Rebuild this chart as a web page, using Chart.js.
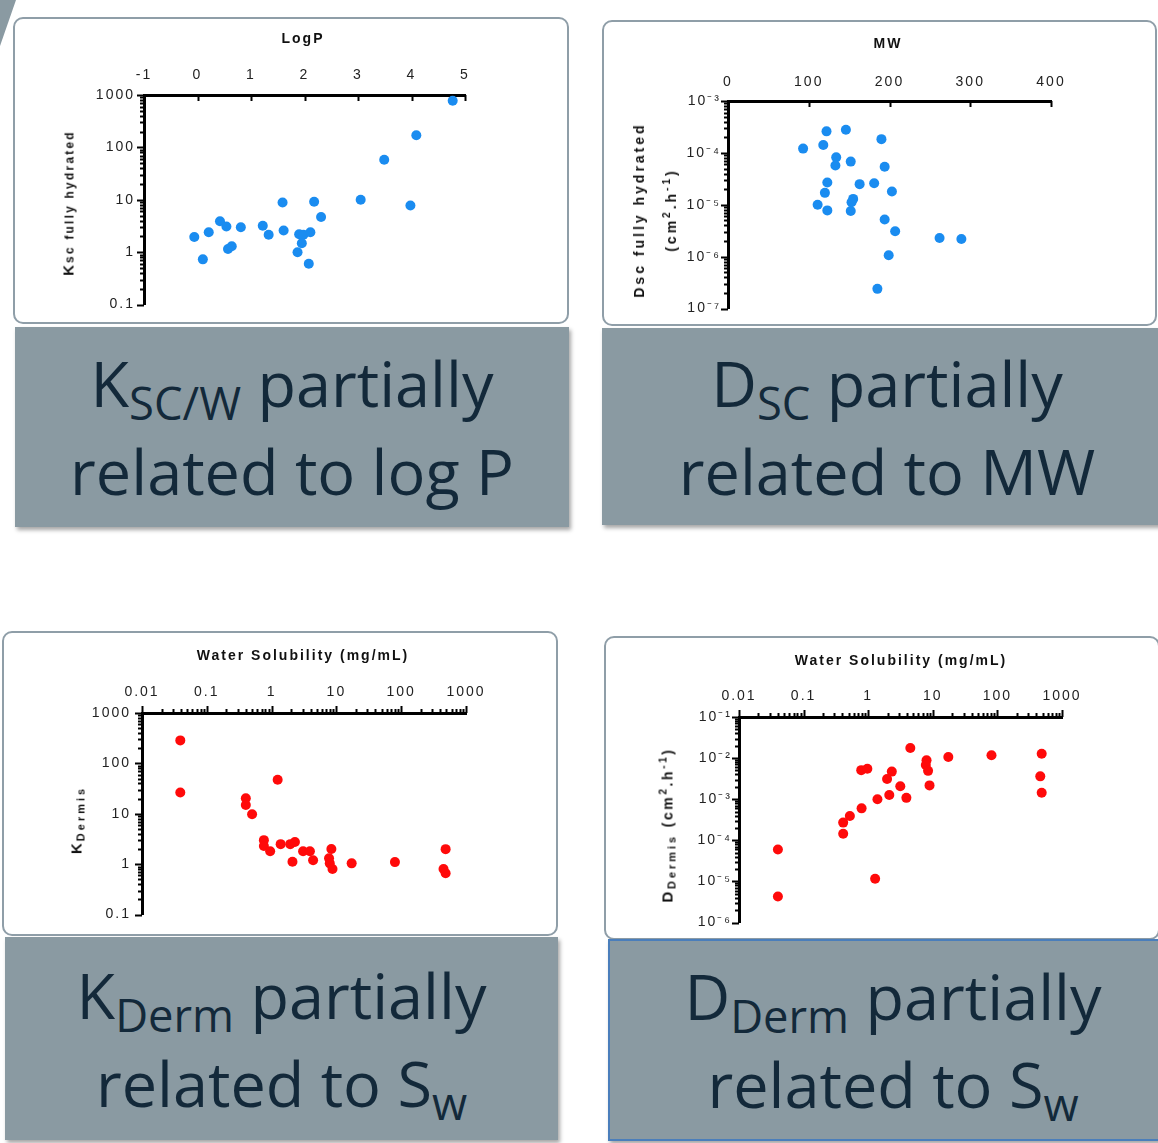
<!DOCTYPE html>
<html>
<head>
<meta charset="utf-8">
<script src="https://cdn.jsdelivr.net/npm/chart.js@4.4.1/dist/chart.umd.min.js"></script>
<style>
  html, body { margin: 0; padding: 0; background: #fff; }
  body { width: 1158px; height: 1143px; position: relative; overflow: hidden; font-family: "Liberation Sans", Arial, sans-serif; }
  .deco { position: absolute; left: 0; top: 0; width: 16px; height: 46px; background: #8a9aa2; clip-path: polygon(0 0, 100% 0, 0 100%); }
  .panel { position: absolute; background: #fff; border: 2px solid #8f9ea8; border-radius: 10px; box-sizing: border-box; }
  .wrap { position: absolute; }
  .caption { position: absolute; background: #8a9aa2; box-shadow: 2px 3px 4px rgba(0,0,0,0.35); box-sizing: border-box;
             color: #13293a; font-family: "Open Sans", sans-serif; font-size: 63px; line-height: 88px; text-align: center;
             display: flex; flex-direction: column; justify-content: center; }
  .caption sub { font-size: 0.72em; line-height: 0; vertical-align: -0.29em; }
  .blue { border: 2px solid #4a7ebb; }
  .xt, .yt { position: absolute; font-weight: bold; white-space: nowrap; color: #111; letter-spacing: 2px; font-size: 14px; z-index: 5; }
  .xt { transform: translate(-50%, -50%); }
  .yt { transform: translate(-50%, -50%) rotate(-90deg); text-align: center; }
  .yt .big { font-size: 15px; }
  .yt .sm { font-size: 12px; letter-spacing: 2.2px; }
  .yt sub { font-size: 11px; vertical-align: -3px; line-height: 0; letter-spacing: 3px; }
  .yt sup { font-size: 10px; vertical-align: 6px; line-height: 0; }
</style>
</head>
<body>
<div class="deco"></div>

<div class="panel" style="left:13px;top:17px;width:556px;height:307px"></div>
<div class="panel" style="left:602px;top:20px;width:555px;height:306px"></div>
<div class="panel" style="left:2px;top:631px;width:556px;height:305px"></div>
<div class="panel" style="left:604px;top:636px;width:556px;height:304px"></div>

<div class="caption" style="left:15px;top:327px;width:554px;height:200px">
  <div>K<sub>SC/W</sub> partially</div><div>related to log P</div>
</div>
<div class="caption" style="left:602px;top:328px;width:570px;height:197px">
  <div>D<sub>SC</sub> partially</div><div>related to MW</div>
</div>
<div class="caption" style="left:5px;top:937px;width:553px;height:203px">
  <div>K<sub>Derm</sub> partially</div><div>related to S<sub>w</sub></div>
</div>
<div class="caption blue" style="left:608px;top:939px;width:570px;height:202px">
  <div>D<sub>Derm</sub> partially</div><div>related to S<sub>w</sub></div>
</div>

<div class="xt" style="left:303px;top:38px">LogP</div>
<div class="yt" style="left:68px;top:203px"><span class="big">K</span><span class="sm">sc fully hydrated</span></div>
<div class="xt" style="left:888px;top:43px">MW</div>
<div class="yt" style="left:655px;top:210px;line-height:32px;letter-spacing:3px">Dsc fully hydrated<br>(cm<sup>2</sup>.h<sup>-1</sup>)</div>
<div class="xt" style="left:303px;top:655px">Water Solubility (mg/mL)</div>
<div class="yt" style="left:76px;top:820px"><span class="big">K</span><sub>Dermis</sub></div>
<div class="xt" style="left:901px;top:660px">Water Solubility (mg/mL)</div>
<div class="yt" style="left:667px;top:825px;letter-spacing:2.6px"><span class="big">D</span><sub>Dermis</sub> (cm<sup>2</sup>.h<sup>-1</sup>)</div>

<script>
// 🔹 DATA
const logP = [4.77, 4.09, 3.49, 3.05, 3.98, 2.18, 1.59, 2.31, 0.42, 0.54, 0.81, 1.22, 1.33, 1.61, 0.21, -0.06, 0.10, 0.57, 0.64, 1.90, 1.98, 2.11, 1.95, 1.87, 2.08];
const kscHydrated = [775, 171, 58, 10, 7.8, 9.2, 8.9, 4.7, 3.9, 3.1, 3.0, 3.2, 2.15, 2.6, 2.4, 1.95, 0.73, 1.15, 1.3, 2.2, 2.15, 2.4, 1.48, 1.0, 0.6];

const molWeight = [93, 118, 122, 146, 190, 134, 133, 152, 194, 123, 163, 181, 203, 120, 155, 153, 111, 123, 152, 194, 207, 262, 289, 199, 185];
const dscHydrated = [1.21e-4, 1.42e-4, 2.6e-4, 2.8e-4, 1.84e-4, 8.2e-5, 5.7e-5, 6.8e-5, 5.4e-5, 2.7e-5, 2.5e-5, 2.6e-5, 1.8e-5, 1.7e-5, 1.3e-5, 1.12e-5, 1.0e-5, 7.8e-6, 7.6e-6, 5.2e-6, 3.1e-6, 2.3e-6, 2.2e-6, 1.07e-6, 2.4e-7];

const solubilityK = [0.039, 0.039, 1.24, 0.40, 0.40, 0.50, 0.76, 0.76, 0.95, 1.38, 1.94, 2.29, 2.1, 3.06, 3.9, 4.37, 8.36, 7.7, 7.9, 8.7, 17.2, 80, 485, 450, 485];
const kDermis = [286, 26.4, 47.5, 20.3, 15, 9.8, 3.0, 2.3, 1.8, 2.5, 2.5, 2.76, 1.12, 1.8, 1.8, 1.2, 2.0, 1.31, 1.04, 0.80, 1.04, 1.1, 1.99, 0.80, 0.66];

const solubilityD = [0.040, 0.040, 1.28, 0.41, 0.41, 0.52, 0.79, 1.39, 2.12, 3.9, 3.14, 1.96, 2.32, 0.78, 0.97, 4.49, 8.0, 7.8, 8.45, 8.9, 17.4, 81, 485, 461, 485];
const dDermis = [6.0e-5, 4.3e-6, 1.16e-5, 1.45e-4, 2.7e-4, 3.9e-4, 6.0e-4, 1.0e-3, 1.27e-3, 1.08e-3, 2.06e-3, 3.1e-3, 4.7e-3, 5.1e-3, 5.5e-3, 1.76e-2, 8.9e-3, 6.8e-3, 4.9e-3, 2.17e-3, 1.07e-2, 1.17e-2, 1.28e-2, 3.6e-3, 1.44e-3];

// 🔹 TICKS
const logPTicks = [-1, 0, 1, 2, 3, 4, 5];
const logPLabels = ['-1', '0', '1', '2', '3', '4', '5'];
const kscTicks = [0.1, 1, 10, 100, 1000];
const kscLabels = ['0.1', '1', '10', '100', '1000'];
const mwTicks = [0, 100, 200, 300, 400];
const mwLabels = ['0', '100', '200', '300', '400'];
const dscTicks = [1e-7, 1e-6, 1e-5, 1e-4, 1e-3];
const dscLabels = ['10⁻⁷', '10⁻⁶', '10⁻⁵', '10⁻⁴', '10⁻³'];
const solTicks = [0.01, 0.1, 1, 10, 100, 1000];
const solLabels = ['0.01', '0.1', '1', '10', '100', '1000'];
const kDermTicks = [0.1, 1, 10, 100, 1000];
const kDermLabels = ['0.1', '1', '10', '100', '1000'];
const dDermTicks = [1e-6, 1e-5, 1e-4, 1e-3, 1e-2, 1e-1];
const dDermLabels = ['10⁻⁶', '10⁻⁵', '10⁻⁴', '10⁻³', '10⁻²', '10⁻¹'];


function same(a, b) {
    return Math.abs(a - b) <= Math.abs(b) * 1e-6 + 1e-12;
}

// major ticks + 2..9 minors for a log axis
function withMinors(majors) {
    let out = [];
    for (let i = 0; i < majors.length - 1; i++) {
        for (let k = 1; k < 10; k++) out.push(k * majors[i]);
    }
    out.push(majors[majors.length - 1]);
    return out;
}

function labeler(values, labels) {
    return function (v) {
        for (let i = 0; i < values.length; i++) {
            if (same(v, values[i])) return labels[i];
        }
        return '';
    };
}

// 🔹 own tick marks (long majors, short minors)
const tickSpec = {};

const tickMarks = {
    id: 'tickMarks',
    beforeDraw(chart) {
        chart.ctx.letterSpacing = '2px';
    },
    afterDraw(chart) {
        const spec = tickSpec[chart.canvas.id];
        const ctx = chart.ctx;
        ctx.save();
        ctx.strokeStyle = '#000';
        Object.keys(spec).forEach(id => {
            const scale = chart.scales[id];
            const m = spec[id];
            ctx.lineWidth = m.width;
            scale.ticks.forEach(t => {
                const major = m.majors.some(v => same(t.value, v));
                const len = major ? m.major : m.minor;
                if (!len) return;
                const p = Math.round(scale.getPixelForValue(t.value)) + 0.5;
                ctx.beginPath();
                if (scale.isHorizontal()) {
                    const y = chart.chartArea.top;
                    ctx.moveTo(p, y);
                    ctx.lineTo(p, y + m.dir * len);
                } else {
                    const x = chart.chartArea.left;
                    ctx.moveTo(x, p);
                    ctx.lineTo(x - len, p);
                }
                ctx.stroke();
            });
        });
        ctx.restore();
    }
};

function axis(o) {
    const all = o.type === 'logarithmic' ? withMinors(o.ticks) : o.ticks;
    return {
        type: o.type,
        position: o.position,
        min: o.ticks[0],
        max: o.ticks[o.ticks.length - 1],
        afterBuildTicks: s => { s.ticks = all.map(v => ({ value: v })); },
        afterFit: o.fit,
        grid: { display: false, drawTicks: false },
        border: { display: true, width: 3, color: '#000' },
        ticks: {
            autoSkip: false,
            maxRotation: 0,
            padding: o.pad,
            color: '#222',
            font: { family: '"Liberation Sans", Arial, sans-serif', size: 14 },
            callback: labeler(o.ticks, o.labels)
        }
    };
}

function makeChart(id, box, area, xs, ys, color, xAxis, yAxis) {
    const left = box[0] + 2, top = box[1] + 2;
    const w = box[2] - box[0] - 4, h = box[3] - box[1] - 4;

    const wrap = document.createElement('div');
    wrap.className = 'wrap';
    wrap.style.left = left + 'px';
    wrap.style.top = top + 'px';
    wrap.style.width = w + 'px';
    wrap.style.height = h + 'px';
    const canvas = document.createElement('canvas');
    canvas.id = id;
    canvas.width = w;
    canvas.height = h;
    wrap.appendChild(canvas);
    document.body.appendChild(wrap);

    tickSpec[id] = {
        x: { majors: xAxis.ticks, major: xAxis.major, minor: xAxis.minor, dir: xAxis.dir, width: 2 },
        y: { majors: yAxis.ticks, major: 7, minor: 4, dir: -1, width: 2 }
    };

    xAxis.position = 'top';
    xAxis.fit = s => { s.height = area[1] - top; };
    yAxis.position = 'left';
    yAxis.fit = s => { s.width = area[0] - left; };

    return new Chart(canvas, {
        type: 'scatter',
        data: {
            datasets: [{
                data: xs.map((x, i) => ({ x: x, y: ys[i] })),
                backgroundColor: color,
                borderWidth: 0,
                pointRadius: 5,
                pointHoverRadius: 5,
                clip: false
            }]
        },
        options: {
            responsive: false,
            animation: false,
            events: [],
            layout: { padding: { left: 0, top: 0, right: left + w - area[2], bottom: top + h - area[3] } },
            plugins: { legend: { display: false }, tooltip: { enabled: false } },
            scales: { x: axis(xAxis), y: axis(yAxis) }
        },
        plugins: [tickMarks]
    });
}

const BLUE = '#1a8cf0';
const RED = '#ff0a0a';

makeChart('kscChart', [13, 17, 569, 324], [144, 95, 465, 309], logP, kscHydrated, BLUE,
    { type: 'linear', ticks: logPTicks, labels: logPLabels, pad: 11, major: 6, minor: 0, dir: 1 },
    { type: 'logarithmic', ticks: kscTicks, labels: kscLabels, pad: 9 });

makeChart('dscChart', [602, 20, 1157, 326], [728, 101, 1051, 314], molWeight, dscHydrated, BLUE,
    { type: 'linear', ticks: mwTicks, labels: mwLabels, pad: 10, major: 6, minor: 0, dir: 1 },
    { type: 'logarithmic', ticks: dscTicks, labels: dscLabels, pad: 7 });

makeChart('kDermChart', [2, 631, 558, 936], [142, 713, 466, 926], solubilityK, kDermis, RED,
    { type: 'logarithmic', ticks: solTicks, labels: solLabels, pad: 12, major: 7, minor: 4, dir: -1 },
    { type: 'logarithmic', ticks: kDermTicks, labels: kDermLabels, pad: 11 });

makeChart('dDermChart', [604, 636, 1160, 940], [739, 717, 1062, 931], solubilityD, dDermis, RED,
    { type: 'logarithmic', ticks: solTicks, labels: solLabels, pad: 12, major: 7, minor: 4, dir: -1 },
    { type: 'logarithmic', ticks: dDermTicks, labels: dDermLabels, pad: 7 });
</script>
</body>
</html>
